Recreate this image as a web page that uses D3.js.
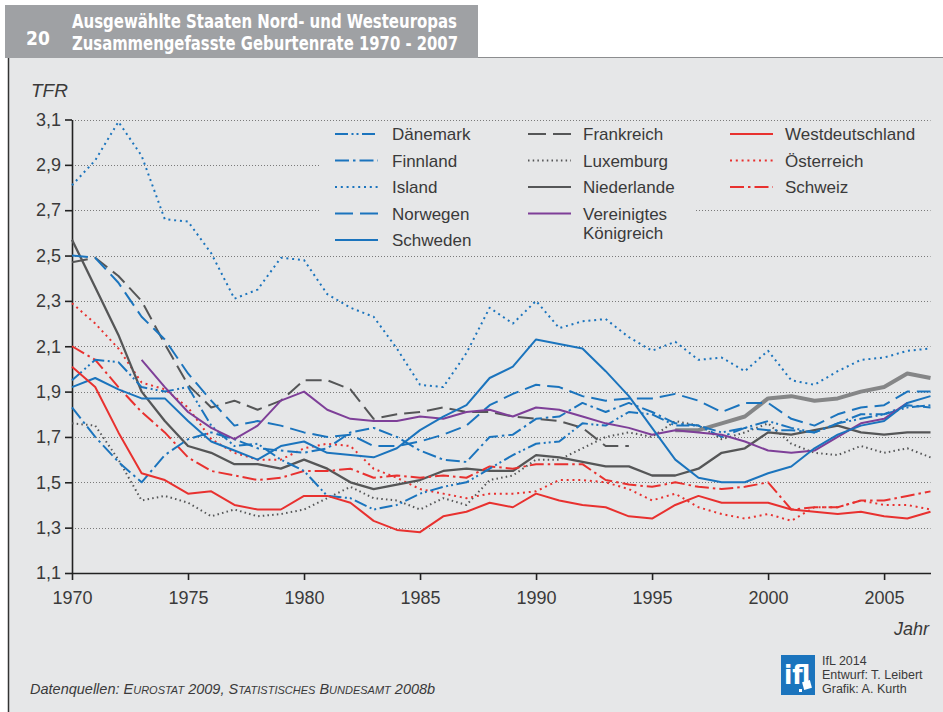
<!DOCTYPE html>
<html>
<head>
<meta charset="utf-8">
<script src="https://cdn.jsdelivr.net/npm/d3@7"></script>
<style>
  body { margin: 0; background: #fff; }
  svg { display: block; font-family: "Liberation Sans", Arial, sans-serif; }
</style>
</head>
<body>
<svg id="chart" width="943" height="712"></svg>
<script>
var years = [1970,1971,1972,1973,1974,1975,1976,1977,1978,1979,1980,1981,1982,1983,1984,1985,1986,1987,1988,1989,
             1990,1991,1992,1993,1994,1995,1996,1997,1998,1999,2000,2001,2002,2003,2004,2005,2006,2007];
var yTicks = [1.1,1.3,1.5,1.7,1.9,2.1,2.3,2.5,2.7,2.9,3.1];
var xTicks = [1970,1975,1980,1985,1990,1995,2000,2005];

// TFR je Land, 1970-2007 (null = kein Wert)
var daenemark = [1.95,2.04,2.03,1.92,1.90,1.92,1.75,1.66,1.67,1.60,1.55,1.44,1.43,1.38,1.40,1.45,1.48,1.50,1.56,1.62,
                 1.67,1.68,1.76,1.75,1.81,1.80,1.75,1.75,1.72,1.74,1.77,1.74,1.72,1.76,1.78,1.80,1.83,1.84];
var finnland = [1.83,1.70,1.59,1.50,1.62,1.69,1.72,1.69,1.65,1.64,1.63,1.65,1.72,1.74,1.70,1.64,1.60,1.59,1.70,1.71,
                1.78,1.79,1.85,1.81,1.85,1.81,1.76,1.75,1.70,1.74,1.73,1.73,1.72,1.76,1.80,1.80,1.84,1.83];
var island = [2.81,2.92,3.09,2.94,2.66,2.65,2.51,2.31,2.35,2.49,2.48,2.33,2.27,2.23,2.09,1.93,1.92,2.07,2.27,2.20,
              2.30,2.18,2.21,2.22,2.14,2.08,2.12,2.04,2.05,1.99,2.08,1.95,1.93,1.99,2.04,2.05,2.08,2.09];
var norwegen = [2.50,2.49,2.38,2.23,2.13,1.98,1.86,1.75,1.77,1.75,1.72,1.70,1.71,1.66,1.66,1.68,1.71,1.75,1.84,1.89,
                1.93,1.92,1.88,1.86,1.87,1.87,1.89,1.86,1.81,1.85,1.85,1.78,1.75,1.80,1.83,1.84,1.90,1.90];
var schweden = [1.92,1.96,1.91,1.87,1.87,1.77,1.68,1.64,1.60,1.66,1.68,1.63,1.62,1.61,1.65,1.73,1.79,1.84,1.96,2.01,
                2.13,2.11,2.09,1.99,1.88,1.74,1.60,1.52,1.50,1.50,1.54,1.57,1.65,1.71,1.75,1.77,1.85,1.88];
var frankreich = [2.47,2.49,2.41,2.30,2.11,1.93,1.83,1.86,1.82,1.86,1.95,1.95,1.91,1.78,1.80,1.81,1.83,1.81,1.81,1.79,
                  1.78,1.77,1.74,1.66,1.66,null,1.73,1.73,1.76,1.79,1.87,1.88,1.86,1.87,1.90,1.92,1.98,1.96];
var luxemburg = [1.76,1.75,1.60,1.42,1.44,1.41,1.35,1.38,1.35,1.36,1.38,1.43,1.48,1.43,1.42,1.38,1.43,1.40,1.51,1.53,
                 1.60,1.60,1.65,1.70,1.72,1.70,1.77,1.75,1.69,1.72,1.76,1.67,1.63,1.62,1.66,1.63,1.65,1.61];
var niederlande = [2.57,2.36,2.15,1.90,1.77,1.66,1.63,1.58,1.58,1.56,1.60,1.56,1.50,1.47,1.49,1.51,1.55,1.56,1.55,1.55,
                   1.62,1.61,1.59,1.57,1.57,1.53,1.53,1.56,1.63,1.65,1.72,1.71,1.73,1.75,1.72,1.71,1.72,1.72];
var vk = [null,null,null,2.04,1.92,1.81,1.74,1.69,1.75,1.86,1.90,1.82,1.78,1.77,1.77,1.79,1.78,1.81,1.82,1.79,
          1.83,1.82,1.79,1.76,1.74,1.71,1.73,1.72,1.71,1.68,1.64,1.63,1.64,1.70,1.76,1.78,1.85,null];
var westdeutschland = [2.01,1.92,1.72,1.54,1.51,1.45,1.46,1.40,1.38,1.38,1.44,1.44,1.41,1.33,1.29,1.28,1.35,1.37,1.41,1.39,
                       1.45,1.42,1.40,1.39,1.35,1.34,1.40,1.44,1.41,1.41,1.41,1.38,1.37,1.36,1.37,1.35,1.34,1.37];
var oesterreich = [2.29,2.20,2.09,1.94,1.91,1.83,1.69,1.63,1.60,1.60,1.65,1.67,1.66,1.56,1.52,1.47,1.45,1.43,1.45,1.45,
                   1.46,1.51,1.51,1.50,1.47,1.42,1.45,1.39,1.36,1.34,1.36,1.33,1.39,1.39,1.42,1.40,1.40,1.38];
var schweiz = [2.10,2.04,1.92,1.81,1.72,1.61,1.55,1.53,1.51,1.52,1.55,1.55,1.56,1.52,1.53,1.52,1.53,1.52,1.57,1.56,
               1.58,1.58,1.58,1.51,1.49,1.48,1.50,1.48,1.47,1.48,1.50,1.38,1.39,1.39,1.42,1.42,1.44,1.46];

var blue = "#1b74bd", grey = "#555657", red = "#e8312f", purple = "#7e3f98";

// name, values, style
var series = [
    {name: "Luxemburg", values: luxemburg, color: grey, dash: "1.5,3.2", w: 2},
    {name: "Island", values: island, color: blue, dash: "2,3.8", w: 2},
    {name: "Österreich", values: oesterreich, color: red, dash: "2,3.8", w: 2},
    {name: "Frankreich", values: frankreich, color: grey, dash: "16,7", w: 2},
    {name: "Niederlande", values: niederlande, color: grey, dash: null, w: 2.3},
    {name: "Schweiz", values: schweiz, color: red, dash: "14,4,2.5,4", w: 2},
    {name: "Finnland", values: finnland, color: blue, dash: "14,4,2.5,4", w: 2},
    {name: "Dänemark", values: daenemark, color: blue, dash: "13,3.5,2,3,2,3.5", w: 2},
    {name: "Norwegen", values: norwegen, color: blue, dash: "16,7", w: 2},
    {name: "Vereinigtes Königreich", values: vk, color: purple, dash: null, w: 2},
    {name: "Schweden", values: schweden, color: blue, dash: null, w: 2},
    {name: "Westdeutschland", values: westdeutschland, color: red, dash: null, w: 2}
];

var legendCols = [
    ["Dänemark", "Finnland", "Island", "Norwegen", "Schweden"],
    ["Frankreich", "Luxemburg", "Niederlande", "Vereinigtes Königreich"],
    ["Westdeutschland", "Österreich", "Schweiz"]
];

var svg = d3.select("#chart");
var txt = "#3a3a3a";

var x = d3.scaleLinear().domain([1970, 2007]).range([72, 930.5]);
var y = d3.scaleLinear().domain([1.1, 3.1]).range([573, 119.5]);

var de = d3.formatLocale({decimal: ",", thousands: ".", grouping: [3], currency: ["", " €"]});
var fmt = de.format(".1f");

/* panel + header */
svg.append("rect").attr("x", 8).attr("y", 57).attr("width", 935).attr("height", 655).attr("fill", "#e6e7e8");
svg.append("line").attr("x1", 8).attr("x2", 943).attr("y1", 57.5).attr("y2", 57.5).attr("stroke", "#8c8d8f").attr("stroke-width", 1);
svg.append("line").attr("x1", 8.5).attr("x2", 8.5).attr("y1", 57).attr("y2", 712).attr("stroke", "#333").attr("stroke-width", 1.5);
svg.append("rect").attr("x", 5).attr("y", 5).attr("width", 473).attr("height", 53).attr("fill", "#9fa1a4");

var head = svg.append("g").attr("fill", "#fff").attr("font-weight", "bold")
    .attr("font-family", "'Liberation Sans Narrow', 'DejaVu Sans Condensed', 'Liberation Sans', sans-serif");
head.append("text").attr("x", 26).attr("y", 45).attr("font-size", 19).text("20");
head.append("text").attr("x", 72).attr("y", 28).attr("font-size", 19.5)
    .attr("textLength", 385).attr("lengthAdjust", "spacingAndGlyphs")
    .text("Ausgewählte Staaten Nord- und Westeuropas");
head.append("text").attr("x", 72).attr("y", 50).attr("font-size", 19.5)
    .attr("textLength", 386).attr("lengthAdjust", "spacingAndGlyphs")
    .text("Zusammengefasste Geburtenrate 1970 - 2007");

/* grid */
svg.append("g").selectAll("line").data(yTicks.filter(function(d) { return d > 1.1; }))
    .enter().append("line")
    .attr("x1", 72).attr("x2", 930.5)
    .attr("y1", function(d) { return Math.round(y(d)) + 0.5; })
    .attr("y2", function(d) { return Math.round(y(d)) + 0.5; })
    .attr("stroke", "#7a7a7a").attr("stroke-width", 1).attr("stroke-dasharray", "1,2");

/* legend background hides grid lines behind the entries */
svg.append("rect").attr("x", 321).attr("y", 122).attr("width", 374).attr("height", 129).attr("fill", "#e6e7e8");
svg.append("rect").attr("x", 695).attr("y", 122).attr("width", 238).attr("height", 80).attr("fill", "#e6e7e8");

/* axes */
var yAxis = svg.append("g").attr("transform", "translate(72,0)")
    .call(d3.axisLeft(y).tickValues(yTicks).tickFormat(fmt).tickSize(7).tickPadding(4).tickSizeOuter(0));
var xAxis = svg.append("g").attr("transform", "translate(0,573)")
    .call(d3.axisBottom(x).tickValues(xTicks).tickFormat(d3.format("d")).tickSize(7).tickPadding(11).tickSizeOuter(0));
[yAxis, xAxis].forEach(function(a) {
    a.select(".domain").attr("stroke", "#222").attr("stroke-width", 1.6);
    a.selectAll(".tick line").attr("stroke", "#222").attr("stroke-width", 1.6);
    a.selectAll(".tick text").attr("fill", txt).attr("font-size", 18)
        .attr("font-family", "'Liberation Sans', Arial, sans-serif");
});

svg.append("text").attr("x", 31).attr("y", 97).attr("font-size", 19).attr("font-style", "italic")
    .attr("fill", txt).text("TFR");
svg.append("text").attr("x", 929).attr("y", 635).attr("font-size", 18).attr("font-style", "italic")
    .attr("text-anchor", "end").attr("fill", txt).text("Jahr");

/* lines */
var line = d3.line()
    .defined(function(d) { return d.v != null; })
    .x(function(d) { return x(d.year); })
    .y(function(d) { return y(d.v); });

var lines = svg.append("g").attr("fill", "none").attr("stroke-linejoin", "round");
series.forEach(function(s) {
    var pts = years.map(function(yr, i) { return {year: yr, v: s.values[i]}; });
    if (s.name === "Frankreich") {
        // zweites Teilstueck ab 1996 als breite graue Linie
        var gap = pts.findIndex(function(d) { return d.v == null; });
        lines.append("path").datum(pts.slice(gap + 1))
            .attr("d", line).attr("stroke", "#858687").attr("stroke-width", 4);
        pts = pts.slice(0, gap);
    }
    lines.append("path").datum(pts)
        .attr("d", line)
        .attr("stroke", s.color)
        .attr("stroke-width", s.w)
        .attr("stroke-dasharray", s.dash);
});

/* legend */
var colX = [335, 528, 730], labelX = [392, 583, 785];
var rowY = function(r) { return 134 + r * 26.5; };
var lg = svg.append("g");
legendCols.forEach(function(col, c) {
    col.forEach(function(name, r) {
        var s = series.find(function(d) { return d.name === name; });
        var yy = rowY(r);
        lg.append("line")
            .attr("x1", colX[c]).attr("x2", colX[c] + 43)
            .attr("y1", yy).attr("y2", yy)
            .attr("stroke", s.color).attr("stroke-width", 2.2)
            .attr("stroke-dasharray", s.dash === "16,7" ? "18,7" : s.dash);
        var t = lg.append("text").attr("x", labelX[c]).attr("y", yy + 6)
            .attr("font-size", 17).attr("fill", txt);
        if (name === "Vereinigtes Königreich") {
            t.append("tspan").attr("x", labelX[c]).text("Vereinigtes");
            t.append("tspan").attr("x", labelX[c]).attr("dy", 19).text("Königreich");
        } else {
            t.text(name);
        }
    });
});

/* source */
var src = svg.append("text").attr("x", 30).attr("y", 694).attr("font-size", 14.5)
    .attr("font-style", "italic").attr("fill", txt);
src.append("tspan").text("Datenquellen: E");
src.append("tspan").attr("font-size", 11).text("UROSTAT");
src.append("tspan").text(" 2009, S");
src.append("tspan").attr("font-size", 11).text("TATISTISCHES");
src.append("tspan").text(" B");
src.append("tspan").attr("font-size", 11).text("UNDESAMT");
src.append("tspan").text(" 2008b");

/* logo + credits */
var logo = svg.append("g").attr("transform", "translate(781,655)");
logo.append("rect").attr("width", 34).attr("height", 40).attr("fill", "#1b74bd");
logo.append("text").attr("x", 3).attr("y", 29).attr("font-size", 27).attr("font-weight", "bold")
    .attr("fill", "#fff").attr("font-family", "'Liberation Sans Narrow', 'DejaVu Sans Condensed', sans-serif")
    .text("ifl");
logo.append("rect").attr("x", 22).attr("y", 26).attr("width", 8).attr("height", 8).attr("fill", "#fff")
    .attr("transform", "rotate(-15,26,30)");
logo.append("rect").attr("x", 18).attr("y", 34).attr("width", 3).attr("height", 3).attr("fill", "#fff");

var cred = svg.append("g").attr("font-size", 12.5).attr("fill", txt);
["IfL 2014", "Entwurf: T. Leibert", "Grafik: A. Kurth"].forEach(function(t, i) {
    cred.append("text").attr("x", 822).attr("y", 665 + i * 14).text(t);
});
</script>
</body>
</html>
